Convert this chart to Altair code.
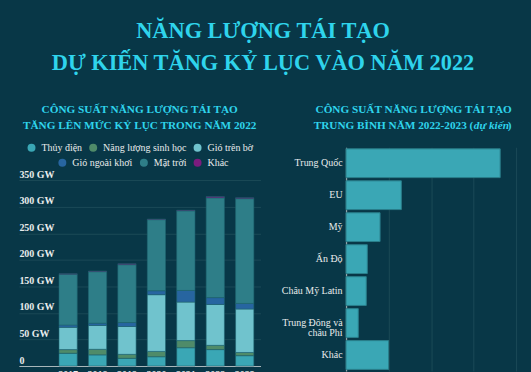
import altair as alt
import pandas as pd

# ---------------- data ----------------
years = ["2017", "2018", "2019", "2020", "2021", "2022", "2023"]
series = ["Thủy điện", "Năng lượng sinh học", "Gió trên bờ",
          "Gió ngoài khơi", "Mặt trời", "Khác"]
hydro = [24, 21, 14.5, 17.5, 34.5, 31, 19.5]
bio = [7, 10.5, 7.5, 10, 13.5, 8, 6]
onshore = [42, 45, 52.5, 107, 72.5, 77, 82]
offshore = [4.3, 4.3, 7.5, 7.5, 22, 13, 10.5]
solar = [95.5, 97, 109, 134, 150, 188, 197.5]
other = [1.3, 1.3, 1.9, 1.0, 1.3, 2.5, 1.9]
y_ticks = [0, 50, 100, 150, 200, 250, 300, 350]

regions = ["Trung Quốc", "EU", "Mỹ", "Ấn Độ", "Châu Mỹ Latin",
           "Trung Đông và châu Phi", "Khác"]
region_values = [145, 52, 32, 20, 19, 11.5, 40]
x_ticks = [0, 40, 80, 120, 160]

main_title = ["NĂNG LƯỢNG TÁI TẠO", "DỰ KIẾN TĂNG KỶ LỤC VÀO NĂM 2022"]
left_title = ["CÔNG SUẤT NĂNG LƯỢNG TÁI TẠO", "TĂNG LÊN MỨC KỶ LỤC TRONG NĂM 2022"]
right_title = ["CÔNG SUẤT NĂNG LƯỢNG TÁI TẠO"]
right_title2 = ["TRUNG BÌNH NĂM 2022-2023 (", "dự kiến", ")"]

colors = ["#3aa7b5", "#4f8b69", "#70c3cd", "#2765a0", "#2e7e88", "#7b1c7e"]

BG = "#083747"
CYAN = "#2fd4ec"
TXT = "#e9ecec"
GRID = "#1b4a57"
SERIF = "Liberation Serif"

rows = []
for i, yr in enumerate(years):
    for k, vals in enumerate([hydro, bio, onshore, offshore, solar, other]):
        rows.append({"year": yr, "series": series[k], "order": k, "value": vals[i]})
df = pd.DataFrame(rows)

df_r = pd.DataFrame({"region": regions, "value": region_values})

# ---------------- left chart ----------------
base = alt.Chart(df).transform_window(
    top="sum(value)",
    sort=[alt.SortField("order", order="ascending")],
    groupby=["year"],
    frame=[None, 0],
).transform_calculate(bottom="datum.top - datum.value")

x_enc = alt.X(
    "year:N", sort=years, title=None,
    scale=alt.Scale(paddingInner=0.38, paddingOuter=0.795, align=0.857),
    axis=alt.Axis(labelAngle=0, domainColor="#a8b6ba", domainWidth=1.2,
                  ticks=False, labelPadding=4, labelColor=TXT, labelFont=SERIF,
                  labelFontSize=10, labelFontWeight="bold", grid=False),
)
y_enc = alt.Y(
    "bottom:Q", title=None,
    scale=alt.Scale(domain=[0, 412.5], nice=False),
    axis=alt.Axis(values=y_ticks,
                  labelExpr="datum.value == 0 ? '0' : datum.value + ' GW'",
                  labelAlign="left", labelBaseline="alphabetic", labelOffset=-3,
                  labelPadding=0, ticks=False, domain=False, gridColor=GRID,
                  labelColor=TXT, labelFont=SERIF, labelFontSize=10,
                  labelFontWeight="bold"),
)


def legend(x, y):
    return alt.Legend(orient="none", legendX=x, legendY=y, direction="horizontal",
                      title=None, symbolType="circle", symbolSize=64,
                      symbolStrokeWidth=0, labelFont=SERIF, labelFontSize=10,
                      labelColor=TXT, labelOffset=5, columnPadding=6)


layer_a = base.transform_filter("datum.order < 3").mark_bar(
    stroke="#1f6470", strokeWidth=0.6
).encode(
    x=x_enc, y=y_enc, y2="top:Q",
    color=alt.Color("series:N", scale=alt.Scale(domain=series[:3], range=colors[:3]),
                    legend=legend(7.7, -4.5)),
)
layer_b = base.transform_filter("datum.order >= 3").mark_bar(
    stroke="#1f6470", strokeWidth=0.6
).encode(
    x=x_enc, y=y_enc, y2="top:Q",
    color=alt.Color("series:N", scale=alt.Scale(domain=series[3:], range=colors[3:]),
                    legend=legend(38.7, 10.5)),
)

left = alt.layer(layer_a, layer_b).resolve_scale(color="independent").properties(
    width=243, height=220,
    title=alt.TitleParams(
        left_title,
        font=SERIF, fontSize=11.3, fontWeight="bold", color=CYAN,
        lineHeight=16, anchor="middle", frame="group", offset=12, dx=0),
)

# ---------------- right chart ----------------
bars_r = alt.Chart(df_r).mark_bar(
    color="#3aa7b5", stroke="#2a7f8b", strokeWidth=1
).encode(
    y=alt.Y("region:N", sort=regions, title=None,
            scale=alt.Scale(paddingInner=0.1, paddingOuter=0.05),
            axis=alt.Axis(
                labelExpr="datum.label == 'Trung Đông và châu Phi' ? ['Trung Đông và', 'châu Phi'] : datum.label",
                ticks=False, labelPadding=4, domainColor="#8da1a7", domainWidth=1.3,
                labelColor=TXT, labelFont=SERIF, labelFontSize=10,
                labelLineHeight=10.5, grid=False)),
    x=alt.X("value:Q", title=None,
            scale=alt.Scale(domain=[0, 174], nice=False),
            axis=alt.Axis(values=x_ticks, gridColor=GRID, domain=False, ticks=False,
                          labelColor=TXT, labelFont=SERIF, labelFontSize=10)),
)


def sub_text(txt, align, xpos, style):
    return alt.Chart(alt.Data(values=[{"t": txt}])).mark_text(
        align=align, baseline="alphabetic", font=SERIF, fontSize=11.3,
        fontWeight="bold", fontStyle=style, color=CYAN,
    ).encode(text="t:N", x=alt.value(xpos), y=alt.value(-18))


right = alt.layer(
    bars_r,
    sub_text(right_title2[0], "right", 128, "normal"),
    sub_text(right_title2[1], "left", 128.5, "italic"),
    sub_text(right_title2[2], "left", 162.5, "normal"),
).properties(
    width=186, height=225,
    title=alt.TitleParams(
        right_title,
        font=SERIF, fontSize=11.3, fontWeight="bold", color=CYAN,
        lineHeight=16, anchor="middle", frame="group", offset=5, dx=-25),
)

chart = alt.hconcat(left, right, spacing=20).properties(
    title=alt.TitleParams(
        main_title,
        font=SERIF, fontSize=22.5, fontWeight="bold", color=CYAN,
        lineHeight=33, anchor="middle", offset=29, dx=-12),
    padding={"left": 19, "top": 18, "right": 0, "bottom": 0},
    background=BG,
).configure_view(stroke=None)

chart.save("out.html", embed_options={"renderer": "svg", "actions": False})
